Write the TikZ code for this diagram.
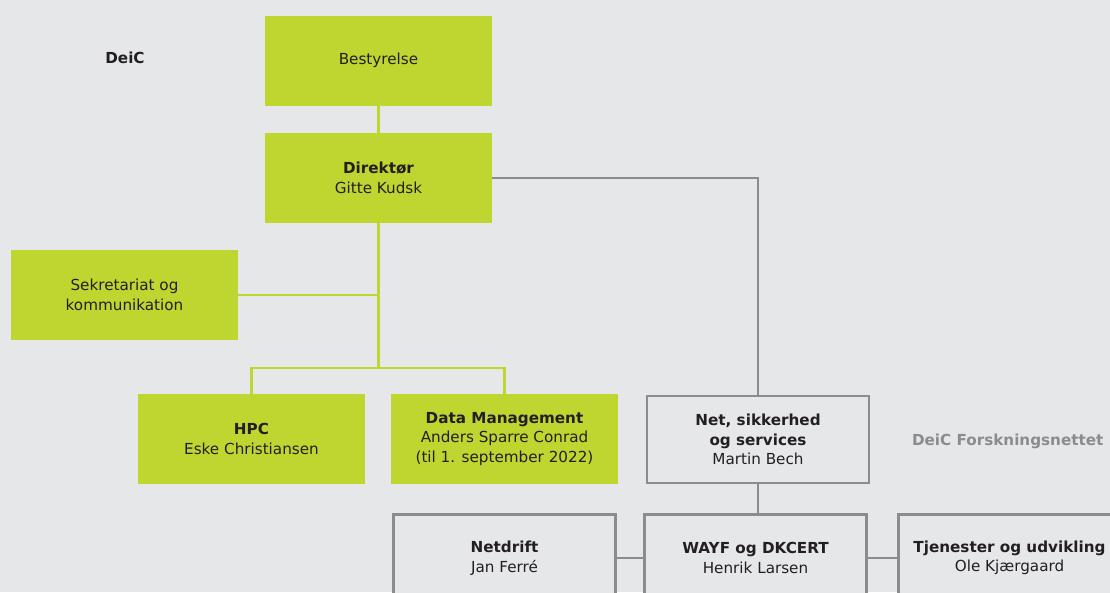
\documentclass[tikz,border=0pt]{standalone}
\usepackage{fontspec}
\setmainfont{DejaVu Sans}
\definecolor{bg}{HTML}{E6E7E9}
\definecolor{lime}{HTML}{BED62F}
\definecolor{lgray}{HTML}{8C8C8C}
\definecolor{ink}{HTML}{231F20}
\begin{document}
\begin{tikzpicture}[x=1pt,y=-1pt,
  gbox/.style={fill=lime,minimum width=227pt,minimum height=90pt,inner sep=0pt,align=center,text=ink,font=\fontsize{15.2}{19.5}\selectfont},
  obox/.style={draw=lgray,line width=2.6pt,fill=bg,minimum width=222pt,minimum height=87pt,inner sep=0pt,align=center,text=ink,font=\fontsize{15.2}{19.5}\selectfont},
  gline/.style={draw=lime,line width=2.6pt},
  oline/.style={draw=lgray,line width=2.6pt}]
\fill[bg] (0,0) rectangle (1110,592);
\useasboundingbox (0,0) rectangle (1110,592);
\clip (0,0) rectangle (1110,592);
\node[text=ink,font=\fontsize{15.2}{19.5}\selectfont\bfseries] (deic) at (125,58) {DeiC};
\node[text=lgray,font=\fontsize{15.2}{19.5}\selectfont\bfseries,anchor=east] (forsk) at (1107,441) {DeiC Forskningsnettet};
\node[gbox] (best) at (378.5,60.5) {\raisebox{-2pt}{Bestyrelse}};
\node[gbox] (dir) at (378.5,178) {\textbf{Direktør}\\Gitte Kudsk};
\node[gbox] (sek) at (124.5,295) {Sekretariat og\\kommunikation};
\node[gbox] (hpc) at (251.5,439) {\textbf{HPC}\\Eske Christiansen};
\node[gbox] (dm) at (504.5,439) {\textbf{Data Management}\\Anders Sparre Conrad\\(til 1. september 2022)};
\node[obox] (net) at (758,439.5) {\textbf{Net, sikkerhed}\\\textbf{og services}\\Martin Bech};
\node[obox] (netd) at (504.5,558) {\textbf{Netdrift}\\Jan Ferré};
\node[obox] (wayf) at (755.5,558) {\textbf{WAYF og DKCERT}\\Henrik Larsen};
\node[obox] (tjen) at (1009.5,558) {\textbf{Tjenester og udvikling}\\Ole Kjærgaard};
\coordinate (hub) at (378.5,368);
\draw[gline] (best.south) -- (dir.north);
\draw[gline] (dir.south) -- (hub);
\draw[gline] (sek.east) -- (dir.south |- sek.east);
\draw[gline] (hpc.north) |- (hub) -| (dm.north);
\draw[oline] (dir.east) -| (net.north);
\draw[oline] (net.south) -- (net.south |- wayf.north);
\draw[oline] (netd.east) -- (wayf.west);
\draw[oline] (wayf.east) -- (tjen.west);
\end{tikzpicture}
\end{document}
